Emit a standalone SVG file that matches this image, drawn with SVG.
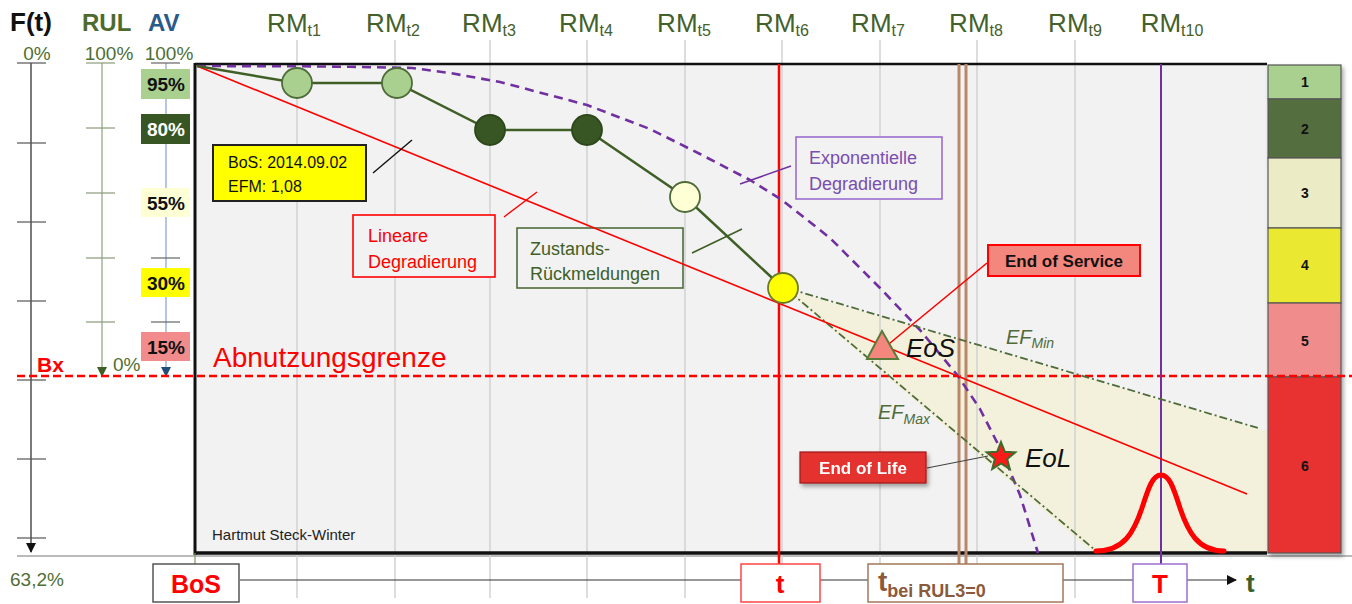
<svg xmlns="http://www.w3.org/2000/svg" width="1352" height="604" viewBox="0 0 1352 604">
<defs>
<style>
text{font-family:"Liberation Sans",Arial,sans-serif}
.rm{font-size:26px;fill:#44602b;text-anchor:middle}
.sub{font-size:16px}
.pct{font-size:19px;fill:#4f6f34}
.avb{font-size:19px;font-weight:bold;text-anchor:middle}
.grid{stroke:#d2d2d2;stroke-width:1.5}
.tick{stroke:#555;stroke-width:1.2}
.gtick{stroke:#8a9a7a;stroke-width:1.2}
.btick{stroke:#666;stroke-width:1.2}
.ef{stroke:#4f6b3a;stroke-width:1.8;stroke-dasharray:8 3 2 3;fill:none}
.leg{stroke:#555;stroke-width:1.2}
.legt{font-size:14px;font-weight:bold;text-anchor:middle;fill:#111}
.bb{font-weight:bold;text-anchor:middle}
.cal{font-size:18px}
</style>
<marker id="ab" markerWidth="10" markerHeight="10" refX="9" refY="5" orient="auto" markerUnits="userSpaceOnUse"><path d="M0,0 L10,5 L0,10 z" fill="#111"/></marker>
<marker id="ag" markerWidth="10" markerHeight="10" refX="9" refY="5" orient="auto" markerUnits="userSpaceOnUse"><path d="M0,0 L10,5 L0,10 z" fill="#3f5f27"/></marker>
<marker id="abl" markerWidth="10" markerHeight="10" refX="9" refY="5" orient="auto" markerUnits="userSpaceOnUse"><path d="M0,0 L10,5 L0,10 z" fill="#1f4e79"/></marker>
<filter id="sh" x="-20%" y="-20%" width="150%" height="150%"><feDropShadow dx="2" dy="3" stdDeviation="2" flood-color="#000" flood-opacity="0.35"/></filter>
</defs>

<g id="headers">
<text x="10" y="31" font-size="26" font-weight="bold" fill="#111">F(t)</text>
<text x="82" y="31" font-size="24" font-weight="bold" fill="#4e6b2e">RUL</text>
<text x="148" y="31" font-size="24" font-weight="bold" fill="#2a5a8a">AV</text>
<text class="pct" x="37" y="60" text-anchor="middle">0%</text>
<text class="pct" x="109" y="60" text-anchor="middle">100%</text>
<text class="pct" x="169" y="60" text-anchor="middle">100%</text>
<text class="pct" x="10" y="586">63,2%</text>
<text class="pct" x="113" y="371">0%</text>
<text x="37" y="372" font-size="21" font-weight="bold" fill="#ff0000">Bx</text>
</g>

<g id="axis-ft">
<line x1="31" y1="63" x2="31" y2="552" stroke="#333" stroke-width="1.3" marker-end="url(#ab)"/>
<line class="tick" x1="17" y1="63" x2="46" y2="63"/>
<line class="tick" x1="17" y1="143" x2="46" y2="143"/>
<line class="tick" x1="17" y1="222" x2="46" y2="222"/>
<line class="tick" x1="17" y1="301" x2="46" y2="301"/>
<line class="tick" x1="17" y1="380" x2="46" y2="380"/>
<line class="tick" x1="17" y1="459" x2="46" y2="459"/>
<line class="tick" x1="17" y1="538" x2="46" y2="538"/>
</g>

<g id="axis-rul">
<line x1="102" y1="63" x2="102" y2="376" stroke="#a6b595" stroke-width="1.5" marker-end="url(#ag)"/>
<line class="gtick" x1="86" y1="63" x2="115" y2="63"/>
<line class="gtick" x1="86" y1="128" x2="115" y2="128"/>
<line class="gtick" x1="86" y1="193" x2="115" y2="193"/>
<line class="gtick" x1="86" y1="258" x2="115" y2="258"/>
<line class="gtick" x1="86" y1="322" x2="115" y2="322"/>
</g>

<g id="axis-av">
<line x1="166" y1="63" x2="166" y2="376" stroke="#9db5d3" stroke-width="1.5" marker-end="url(#abl)"/>
<line class="btick" x1="151" y1="63" x2="180" y2="63"/>
<line class="btick" x1="151" y1="258" x2="180" y2="258"/>
<line class="btick" x1="151" y1="322" x2="180" y2="322"/>
<rect x="141" y="69" width="49" height="30" fill="#a9d08e"/>
<text class="avb" x="166" y="91" fill="#111">95%</text>
<rect x="141" y="114" width="49" height="30" fill="#375623"/>
<text class="avb" x="166" y="136" fill="#fff">80%</text>
<rect x="141" y="188" width="49" height="29" fill="#ffffd5"/>
<text class="avb" x="166" y="210" fill="#111">55%</text>
<rect x="141" y="268" width="49" height="29" fill="#ffff00"/>
<text class="avb" x="166" y="290" fill="#111">30%</text>
<rect x="141" y="332" width="49" height="29" fill="#f28b8b"/>
<text class="avb" x="166" y="354" fill="#111">15%</text>
</g>

<line x1="17" y1="556" x2="1352" y2="556" stroke="#777" stroke-width="1.2"/>

<g id="chart">
<rect x="195" y="64" width="1072" height="489" fill="#f2f2f2"/>
<polygon points="783,288 1267,431 1267,553 1093,553" fill="#f3f1dc"/>
<line class="grid" x1="297" y1="40" x2="297" y2="598"/>
<line class="grid" x1="395" y1="40" x2="395" y2="598"/>
<line class="grid" x1="490" y1="40" x2="490" y2="598"/>
<line class="grid" x1="587" y1="40" x2="587" y2="598"/>
<line class="grid" x1="685" y1="40" x2="685" y2="598"/>
<line class="grid" x1="782" y1="40" x2="782" y2="598"/>
<line class="grid" x1="880" y1="40" x2="880" y2="598"/>
<line class="grid" x1="977" y1="40" x2="977" y2="598"/>
<line class="grid" x1="1075" y1="40" x2="1075" y2="598"/>
<line x1="195" y1="64" x2="1267" y2="64" stroke="#111" stroke-width="2.5"/>
<line x1="195" y1="63" x2="195" y2="555" stroke="#111" stroke-width="3"/>
<line x1="194" y1="553" x2="1267" y2="553" stroke="#111" stroke-width="3.5"/>
<text x="212" y="540" font-size="15" fill="#222">Hartmut Steck-Winter</text>
</g>

<g id="rm-labels">
<text class="rm" x="294" y="32">RM<tspan class="sub" dy="4">t1</tspan></text>
<text class="rm" x="393" y="32">RM<tspan class="sub" dy="4">t2</tspan></text>
<text class="rm" x="489" y="32">RM<tspan class="sub" dy="4">t3</tspan></text>
<text class="rm" x="586" y="32">RM<tspan class="sub" dy="4">t4</tspan></text>
<text class="rm" x="684" y="32">RM<tspan class="sub" dy="4">t5</tspan></text>
<text class="rm" x="782" y="32">RM<tspan class="sub" dy="4">t6</tspan></text>
<text class="rm" x="878" y="32">RM<tspan class="sub" dy="4">t7</tspan></text>
<text class="rm" x="976" y="32">RM<tspan class="sub" dy="4">t8</tspan></text>
<text class="rm" x="1075" y="32">RM<tspan class="sub" dy="4">t9</tspan></text>
<text class="rm" x="1172" y="32">RM<tspan class="sub" dy="4">t10</tspan></text>
</g>

<g id="legend" filter="url(#sh)">
<rect class="leg" x="1268" y="65" width="73" height="34" fill="#a9d08e"/>
<rect class="leg" x="1268" y="99" width="73" height="59" fill="#546e41"/>
<rect class="leg" x="1268" y="158" width="73" height="70" fill="#ebebc6"/>
<rect class="leg" x="1268" y="228" width="73" height="75" fill="#ebe832"/>
<rect class="leg" x="1268" y="303" width="73" height="74" fill="#f08c8c"/>
<rect class="leg" x="1268" y="377" width="73" height="176" fill="#e83030"/>
</g>
<g id="legend-text">
<text class="legt" x="1305" y="87">1</text>
<text class="legt" x="1305" y="134">2</text>
<text class="legt" x="1305" y="198">3</text>
<text class="legt" x="1305" y="270">4</text>
<text class="legt" x="1305" y="346">5</text>
<text class="legt" x="1305" y="471">6</text>
</g>

<g id="limit">
<line x1="17" y1="376" x2="1352" y2="376" stroke="#ff0000" stroke-width="2.5" stroke-dasharray="8 4"/>
<text x="213" y="367" font-size="28" fill="#ff0000">Abnutzungsgrenze</text>
</g>

<g id="markers-vertical">
<line x1="779" y1="64" x2="779" y2="565" stroke="#ff0000" stroke-width="2.5"/>
<line x1="959" y1="64" x2="959" y2="565" stroke="#b9876a" stroke-width="3"/>
<line x1="966" y1="64" x2="966" y2="565" stroke="#b9876a" stroke-width="3"/>
<line x1="1161" y1="64" x2="1161" y2="565" stroke="#7030a0" stroke-width="2"/>
<line x1="195" y1="553" x2="195" y2="564" stroke="#7a9a5a" stroke-width="1.2"/>
</g>

<g id="exponential">
<path d="M197,66 L300,66.3 L350,66.8 L412,68 L450,73 L500,82 L587,105 L650,129 L700,154 L750,180 L782,200 L830,238 L880,288 L920,330 L958,376 L980,409 L1002,452 L1020,495 L1038,553" fill="none" stroke="#7030a0" stroke-width="2.6" stroke-dasharray="9 6" stroke-linejoin="round"/>
</g>

<g id="ef-lines">
<line class="ef" x1="790" y1="289" x2="1258" y2="428"/>
<line class="ef" x1="790" y1="292" x2="1095" y2="550"/>
<text x="1006" y="344" font-size="20" font-style="italic" fill="#4f6b3a">EF<tspan font-size="14" dy="4">Min</tspan></text>
<text x="878" y="419" font-size="20" font-style="italic" fill="#4f6b3a">EF<tspan font-size="14" dy="5">Max</tspan></text>
</g>

<g id="bell">
<path d="M1096,551 C1124,551 1134,532 1142,508 C1149,486 1153,475 1161,475 C1169,475 1173,486 1180,508 C1188,532 1198,551 1224,551" fill="none" stroke="#ff0000" stroke-width="5" stroke-linecap="round"/>
</g>

<g id="box-bos-info">
<rect x="213" y="145" width="153" height="56" fill="#ffff00" stroke="#222" stroke-width="2"/>
<text x="228" y="168" font-size="16" fill="#111">BoS: 2014.09.02</text>
<text x="228" y="192" font-size="16" fill="#111">EFM: 1,08</text>
</g>

<g id="box-linear">
<rect x="353" y="215" width="142" height="62" fill="#f2f2f2" stroke="#ff0000" stroke-width="1.6"/>
<text class="cal" x="368" y="242" fill="#ff0000">Lineare</text>
<text class="cal" x="368" y="268" fill="#ff0000">Degradierung</text>
</g>

<g id="box-reports">
<rect x="517" y="228" width="166" height="60" fill="#f2f2f2" stroke="#4f6b3a" stroke-width="1.6"/>
<text class="cal" x="530" y="255" fill="#3f5f27">Zustands-</text>
<text class="cal" x="530" y="280" fill="#3f5f27">Rückmeldungen</text>
</g>

<g id="box-exponential">
<rect x="796" y="137" width="146" height="62" fill="#f2f2f2" stroke="#9a6dd0" stroke-width="1.6"/>
<text class="cal" x="809" y="164" fill="#7a4db0">Exponentielle</text>
<text class="cal" x="809" y="190" fill="#7a4db0">Degradierung</text>
</g>

<g id="linear">
<line x1="197" y1="66" x2="1247" y2="494" stroke="#ff0000" stroke-width="1.6"/>
</g>

<g id="condition-reports">
<polyline points="197,66 297,83 397,83 490,130 587,130 685,197 783,288" fill="none" stroke="#3f5f27" stroke-width="2.5"/>
<circle id="rm1" cx="297" cy="83" r="15" fill="#a9d08e" stroke="#4f6b3a" stroke-width="1.8"/>
<circle id="rm2" cx="397" cy="83" r="15" fill="#a9d08e" stroke="#4f6b3a" stroke-width="1.8"/>
<circle id="rm3" cx="490" cy="130" r="15" fill="#375623" stroke="#2d471c" stroke-width="1.8"/>
<circle id="rm4" cx="587" cy="130" r="15" fill="#375623" stroke="#2d471c" stroke-width="1.8"/>
<circle id="rm5" cx="685" cy="197" r="15" fill="#ffffd5" stroke="#4f6b3a" stroke-width="1.8"/>
<circle id="rm6" cx="783" cy="288" r="15" fill="#ffff00" stroke="#6b7a2a" stroke-width="1.8"/>
</g>

<g id="connectors" fill="none">
<line x1="373" y1="173" x2="412" y2="140" stroke="#111" stroke-width="1.4"/>
<line x1="504" y1="217" x2="537" y2="192" stroke="#ff0000" stroke-width="1.4"/>
<line x1="692" y1="253" x2="742" y2="229" stroke="#3f5f27" stroke-width="1.6"/>
<line x1="740" y1="184" x2="791" y2="166" stroke="#7030a0" stroke-width="1.6"/>
<line x1="987" y1="263" x2="884" y2="348" stroke="#ff0000" stroke-width="1.6"/>
<line x1="927" y1="468" x2="988" y2="456" stroke="#444" stroke-width="1.2"/>
<line x1="240" y1="580" x2="1236" y2="580" stroke="#333" stroke-width="1.2" marker-end="url(#ab)"/>
</g>

<g id="eos">
<polygon points="882,331 867,359 898,359" fill="#f4877d" stroke="#5a7a3a" stroke-width="2"/>
<text x="906" y="357" font-size="26" font-style="italic" fill="#111">EoS</text>
</g>

<g id="eol">
<polygon points="1001,442 1004.8,451.7 1015.3,452.4 1007.2,459 1009.8,469.1 1001,463.5 992.2,469.1 994.8,459 986.7,452.4 997.2,451.7" fill="#ff1a1a" stroke="#3f6a2a" stroke-width="2"/>
<text x="1025" y="467" font-size="26" font-style="italic" fill="#111">EoL</text>
</g>

<g id="box-end-of-service">
<rect x="988" y="245" width="152" height="31" fill="#f4877d" stroke="#ff0000" stroke-width="2"/>
<text class="bb" x="1064" y="267" font-size="17" fill="#111">End of Service</text>
</g>

<g id="box-end-of-life" filter="url(#sh)">
<rect x="800" y="452" width="126" height="31" fill="#e4302f" stroke="#a01818" stroke-width="1.2"/>
<text class="bb" x="863" y="474" font-size="17" fill="#fff">End of Life</text>
</g>

<g id="time-axis">
<rect x="153" y="564" width="86" height="38" fill="#fff" stroke="#555" stroke-width="1.5"/>
<text class="bb" x="196" y="593" font-size="25" fill="#ff0000">BoS</text>
<rect x="741" y="564" width="79" height="38" fill="#fff" stroke="#ff4444" stroke-width="1.5"/>
<text class="bb" x="780" y="593" font-size="26" fill="#ff0000">t</text>
<rect x="868" y="564" width="195" height="38" fill="#fff" stroke="#a5775a" stroke-width="1.5"/>
<text x="878" y="591" font-size="28" font-weight="bold" fill="#8b5a3a">t<tspan font-size="18" dy="6">bei RUL3=0</tspan></text>
<rect x="1133" y="564" width="54" height="38" fill="#fff" stroke="#9b6fd0" stroke-width="1.5"/>
<text class="bb" x="1160" y="593" font-size="26" fill="#ff0000">T</text>
<text x="1246" y="592" font-size="26" font-weight="bold" fill="#3f5f27">t</text>
</g>
</svg>
